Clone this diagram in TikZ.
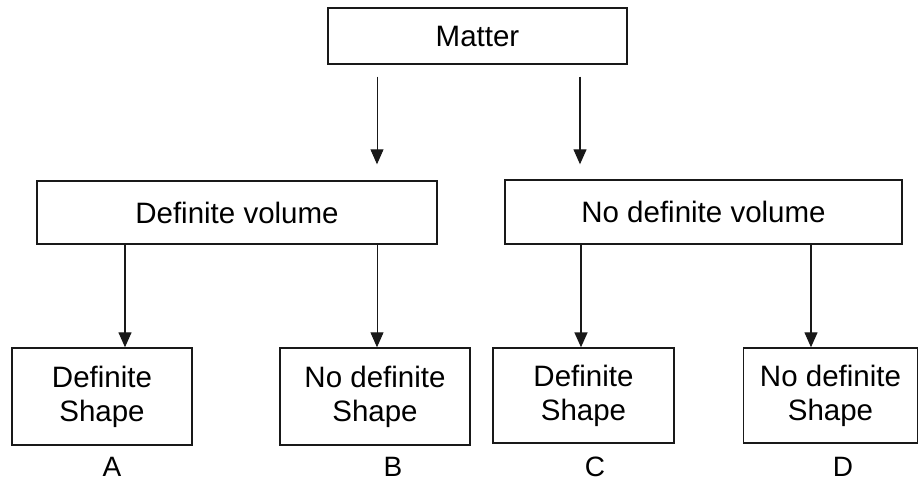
\documentclass[tikz,border=0pt]{standalone}
\usepackage{fontspec}
\setmainfont{Liberation Sans}
\usetikzlibrary{arrows.meta,calc}
\tikzset{
  boxnode/.style={draw=black!90, line width=1.4pt, inner sep=0pt, align=center,
    font=\fontsize{29.5}{34}\selectfont},
  lbl/.style={inner sep=0pt, font=\fontsize{28}{30}\selectfont},
  arr/.style={draw=black!90, line width=1.3pt, -{Triangle[width=13pt,length=15pt]}},
}
\begin{document}
\begin{tikzpicture}[x=1pt,y=-1pt]
\useasboundingbox (0,0) rectangle (919,482);
\node[boxnode, minimum width=299pt, minimum height=56pt] (matter) at (477.5,36) {Matter};
\node[boxnode, minimum width=400pt, minimum height=63pt] (dv) at (237,212.5) {Definite volume};
\node[boxnode, minimum width=397pt, minimum height=64pt] (ndv) at (703.5,212) {No definite volume};
\node[boxnode, minimum width=180pt, minimum height=97pt] (A) at (102,396.5) {Definite\\Shape};
\node[boxnode, minimum width=190pt, minimum height=97pt] (B) at (375,396.5) {No definite\\Shape};
\node[boxnode, minimum width=181pt, minimum height=95pt] (C) at (583.5,395.5) {Definite\\Shape};
\node[boxnode, minimum width=174pt, minimum height=95pt] (D) at (830.5,395.5) {No definite\\Shape};
\node[lbl] (la) at (112,467) {A};
\node[lbl] (lb) at (393,467) {B};
\node[lbl] (lc) at (595,467) {C};
\node[lbl] (ld) at (843,467) {D};
\coordinate (x1) at (377,0);
\coordinate (x2) at (580,0);
\coordinate (x3) at (125,0);
\coordinate (x4) at (377,0);
\coordinate (x5) at (581,0);
\coordinate (x6) at (811,0);
\draw[arr, line width=1pt, shorten <=12pt, shorten >=16pt] (matter.south -| x1) -- (dv.north -| x1);
\draw[arr, shorten <=12pt, shorten >=15pt] (matter.south -| x2) -- (ndv.north -| x2);
\draw[arr] (dv.south -| x3) -- (A.north -| x3);
\draw[arr, line width=1pt] (dv.south -| x4) -- (B.north -| x4);
\draw[arr, line width=1.6pt] (ndv.south -| x5) -- (C.north -| x5);
\draw[arr] (ndv.south -| x6) -- (D.north -| x6);
\end{tikzpicture}
\end{document}
